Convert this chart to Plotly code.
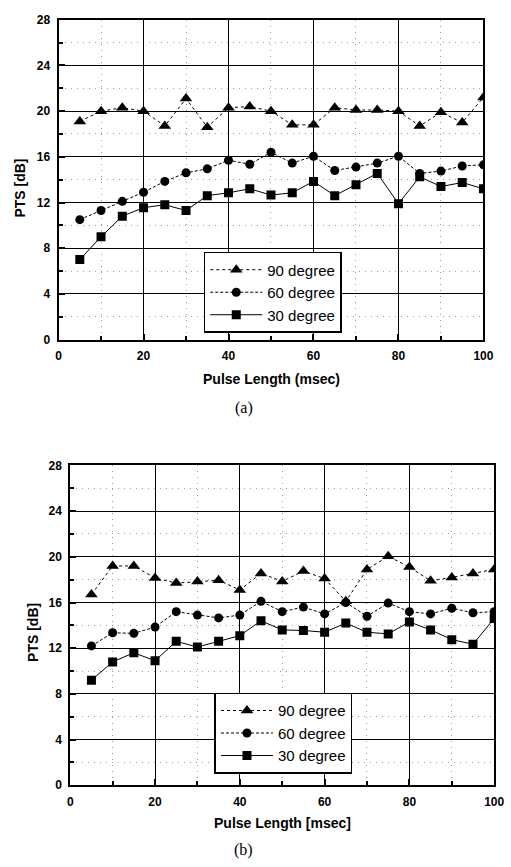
import plotly.graph_objects as go

pulse = [5, 10, 15, 20, 25, 30, 35, 40, 45, 50, 55, 60, 65, 70, 75, 80, 85, 90, 95, 100]

a90 = [19.1, 20.0, 20.3, 20.0, 18.7, 21.1, 18.6, 20.3, 20.4, 20.0, 18.8, 18.8, 20.3, 20.1, 20.1, 20.0, 18.7, 19.9, 19.0, 21.2]
a60 = [10.5, 11.3, 12.1, 12.9, 13.85, 14.6, 14.95, 15.7, 15.35, 16.4, 15.45, 16.05, 14.8, 15.1, 15.45, 16.05, 14.55, 14.75, 15.2, 15.3]
a30 = [7.0, 9.0, 10.8, 11.55, 11.8, 11.3, 12.6, 12.85, 13.2, 12.65, 12.85, 13.85, 12.6, 13.55, 14.55, 11.9, 14.25, 13.4, 13.75, 13.2]

b90 = [16.7, 19.2, 19.2, 18.15, 17.7, 17.85, 17.95, 17.1, 18.55, 17.85, 18.75, 18.1, 16.1, 18.9, 20.05, 19.1, 17.9, 18.2, 18.55, 18.9]
b60 = [12.2, 13.35, 13.3, 13.85, 15.2, 14.9, 14.65, 14.9, 16.1, 15.2, 15.6, 15.0, 16.0, 14.8, 15.95, 15.2, 15.0, 15.5, 15.1, 15.2]
b30 = [9.2, 10.8, 11.6, 10.9, 12.6, 12.1, 12.6, 13.1, 14.4, 13.6, 13.55, 13.4, 14.2, 13.4, 13.25, 14.3, 13.6, 12.75, 12.35, 14.6]

names = ["90 degree", "60 degree", "30 degree"]
W, H = 511, 867
FONT = "Liberation Sans, Arial, sans-serif"

styles = [
    dict(symbol="triangle-up", size=11, dash="dot"),
    dict(symbol="circle", size=9, dash="3px,2px"),
    dict(symbol="square", size=9, dash="solid"),
]

fig = go.Figure()

def add_panel(series, xa, ya, legend):
    for nm, ys, st in zip(names, series, styles):
        fig.add_trace(go.Scatter(
            x=pulse, y=ys, name=nm, mode="lines+markers",
            xaxis=xa, yaxis=ya, legend=legend,
            line=dict(color="black", width=1, dash=st["dash"]),
            marker=dict(symbol=st["symbol"], size=st["size"], color="black"),
        ))

add_panel([a90, a60, a30], "x", "y", "legend")
add_panel([b90, b60, b30], "x2", "y2", "legend2")

def px_x(p):
    return p / W

def px_y(p):
    return 1 - p / H

minor_grid = dict(ticks="inside", ticklen=4, tickcolor="black",
                  showgrid=True, gridcolor="#9a9a9a", griddash="1px,5px", gridwidth=1)

def xaxis(dom, anchor):
    return dict(
        domain=dom, anchor=anchor, range=[0, 100], dtick=20, tick0=0,
        showline=True, linecolor="black", linewidth=2, mirror=True,
        ticks="inside", ticklen=6, tickwidth=1.5, tickcolor="black",
        showgrid=True, gridcolor="black", gridwidth=1, zeroline=False,
        tickfont=dict(family=FONT, size=12, color="black", weight="bold"),
        ticklabelstandoff=4,
        minor=dict(dtick=10, tick0=0, **minor_grid),
    )

def yaxis(dom, anchor):
    return dict(
        domain=dom, anchor=anchor, range=[0, 28], dtick=4, tick0=0,
        showline=True, linecolor="black", linewidth=2, mirror=True,
        ticks="inside", ticklen=6, tickwidth=1.5, tickcolor="black",
        showgrid=True, gridcolor="black", gridwidth=1, zeroline=False,
        tickfont=dict(family=FONT, size=12, color="black", weight="bold"),
        ticklabelstandoff=4,
        minor=dict(dtick=2, tick0=0, **minor_grid),
    )

legend_common = dict(
    bgcolor="white", bordercolor="black", borderwidth=1.5,
    font=dict(family=FONT, size=15, color="black"),
    xanchor="left", yanchor="top", itemwidth=52, tracegroupgap=0,
)

fig.update_layout(
    width=W, height=H, autosize=False,
    margin=dict(l=0, r=0, t=0, b=0),
    paper_bgcolor="white", plot_bgcolor="white",
    showlegend=True,
    xaxis=xaxis([px_x(57), px_x(493)], "y"),
    yaxis=yaxis([px_y(338), px_y(13)], "x"),
    xaxis2=xaxis([px_x(69), px_x(504)], "y2"),
    yaxis2=yaxis([px_y(791), px_y(466)], "x2"),
    legend=dict(x=px_x(206), y=px_y(249), **legend_common),
    legend2=dict(x=px_x(217), y=px_y(697), **legend_common),
)

def label(text, x, y, size=14, angle=0, family=FONT, bold=True):
    fig.add_annotation(
        text=(f"<b>{text}</b>" if bold else text), x=px_x(x), y=px_y(y),
        xref="paper", yref="paper", showarrow=False, textangle=angle,
        xanchor="center", yanchor="middle",
        font=dict(family=family, size=size, color="black"),
    )

label("Pulse Length (msec)", 275, 378)
label("(a)", 247, 408, size=16, family="Liberation Serif, Times New Roman, serif", bold=False)
label("PTS [dB]", 17, 184, angle=-90)

label("Pulse Length [msec]", 287, 829)
label("(b)", 247, 857, size=16, family="Liberation Serif, Times New Roman, serif", bold=False)
label("PTS [dB]", 31, 636, angle=-90)

fig.write_html("out.html")
